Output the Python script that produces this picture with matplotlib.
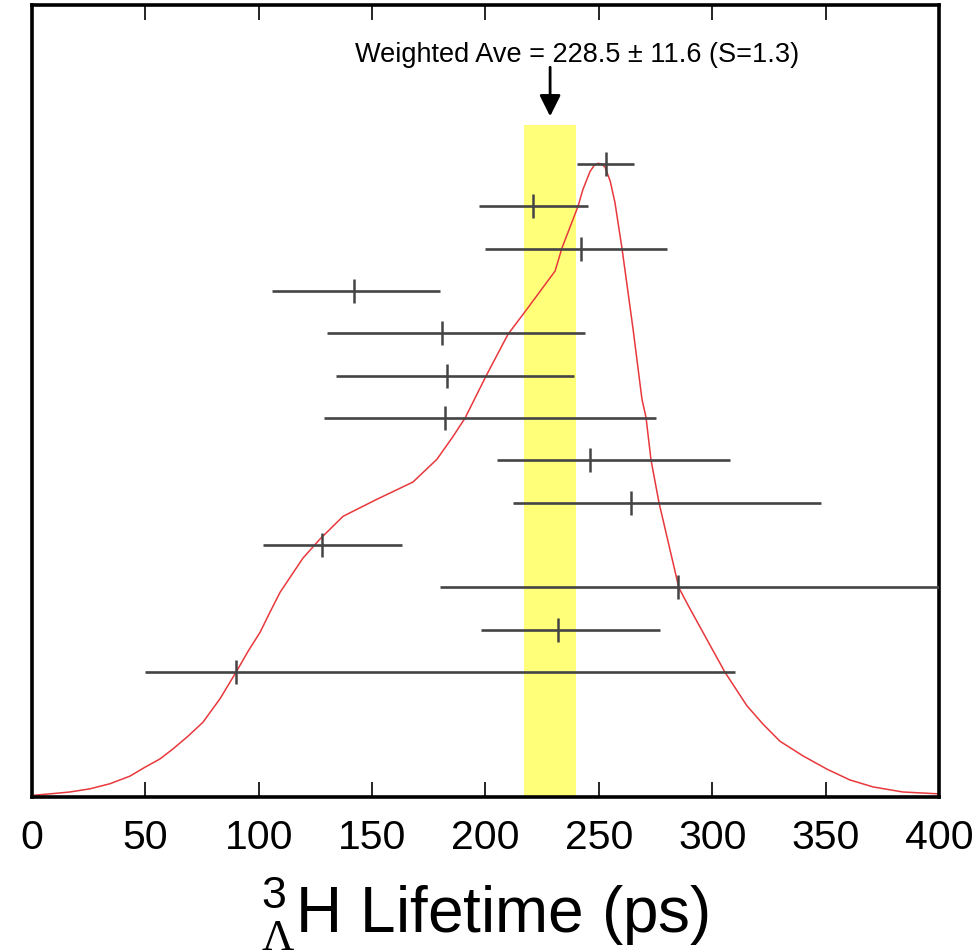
import numpy as np
import matplotlib.pyplot as plt

plt.rcParams['font.family'] = ['Liberation Sans', 'DejaVu Sans']
plt.rcParams['mathtext.fontset'] = 'custom'
plt.rcParams['mathtext.rm'] = 'Liberation Serif'
plt.rcParams['mathtext.sf'] = 'Liberation Sans'

# --- measurements, bottom row first (ps) ---
tau = [90, 232, 285, 128, 264, 246, 182, 183, 181, 142, 242, 221, 253]
err_lo = [40, 34, 105, 26, 52, 41, 53, 49, 51, 36, 42, 24, 12.5]
err_hi = [220, 45, 127, 35, 84, 62, 93, 56, 63, 38, 38, 24, 12.5]
rows = np.arange(1, len(tau) + 1)

# weighted average band
ave, ave_err = 228.5, 11.6

# ideogram (x in ps, height relative to peak)
curve_x = [0, 1.3, 7.9, 16.8, 25.6, 34.4, 43.2, 49.8, 56.4, 62.2, 68.8, 75.4, 82.9,
           90.0, 95.3, 100.6, 105.0, 109.4, 119.5, 127.0, 137.2, 152.2, 168.0,
           178.6, 185.7, 191.0, 200.2, 209.9, 218.3, 230.7, 233.7, 240.8, 243.0,
           246.1, 248.0, 249.6, 251.2, 252.7, 255.0, 257.1, 260.2, 265.1, 269.0,
           270.8, 273.0, 276.5, 285.3, 290.2, 305.6, 315.3, 322.4, 329.9, 340.0,
           350.6, 360.7, 370.9, 384.0, 400]
curve_h = [0.002, 0.003, 0.005, 0.008, 0.013, 0.021, 0.033, 0.047, 0.060, 0.076,
           0.096, 0.118, 0.155, 0.197, 0.230, 0.260, 0.292, 0.323, 0.377, 0.407,
           0.443, 0.470, 0.497, 0.533, 0.569, 0.598, 0.664, 0.730, 0.770, 0.830,
           0.866, 0.932, 0.959, 0.987, 0.997, 1.0, 0.999, 0.994, 0.972, 0.938,
           0.866, 0.738, 0.628, 0.599, 0.532, 0.465, 0.330, 0.297, 0.197, 0.144,
           0.115, 0.088, 0.065, 0.044, 0.027, 0.016, 0.008, 0.005]

YLO, YHI = -1.953, 16.76
PEAK = 13.02
BAND_TOP = 13.92

fig = plt.figure(figsize=(9.78, 9.53), dpi=100)
ax = fig.add_axes([0.0327, 0.1626, 0.9274, 0.8311])

ax.fill_between([ave - ave_err, ave + ave_err], YLO, BAND_TOP,
                color='#ffff7a', lw=0, zorder=1)

ax.plot(curve_x, YLO + np.array(curve_h) * (PEAK - YLO),
        color='#e8383c', lw=1.1, zorder=2)

ax.errorbar(tau, rows, xerr=[err_lo, err_hi], fmt='|', color='#444444',
            ms=17, mew=1.8, elinewidth=1.9, capsize=0, zorder=3)

ax.annotate('', xy=(ave, 14.13), xytext=(ave, 15.29),
            arrowprops=dict(arrowstyle='-|>,head_length=0.8,head_width=0.4',
                            mutation_scale=16, lw=2, color='black',
                            shrinkA=0, shrinkB=0))
ax.text(240.6, 15.43, 'Weighted Ave = 228.5 \u00b1 11.6 (S=1.3)',
        ha='center', va='baseline', fontsize=19.5)

ax.set_xlim(0, 400)
ax.set_ylim(YLO, YHI)
ax.set_xticks(np.arange(0, 401, 50))
ax.set_yticks([])
ax.tick_params(axis='x', direction='in', length=11, width=1.2, top=True,
               labelsize=29.5, pad=15)
for s in ax.spines.values():
    s.set_linewidth(2.6)

ax.set_xlabel(r'$^{\mathsf{3}}_{\Lambda}$H Lifetime (ps)', fontsize=46, labelpad=13)

fig.savefig('out.png', dpi=100)
